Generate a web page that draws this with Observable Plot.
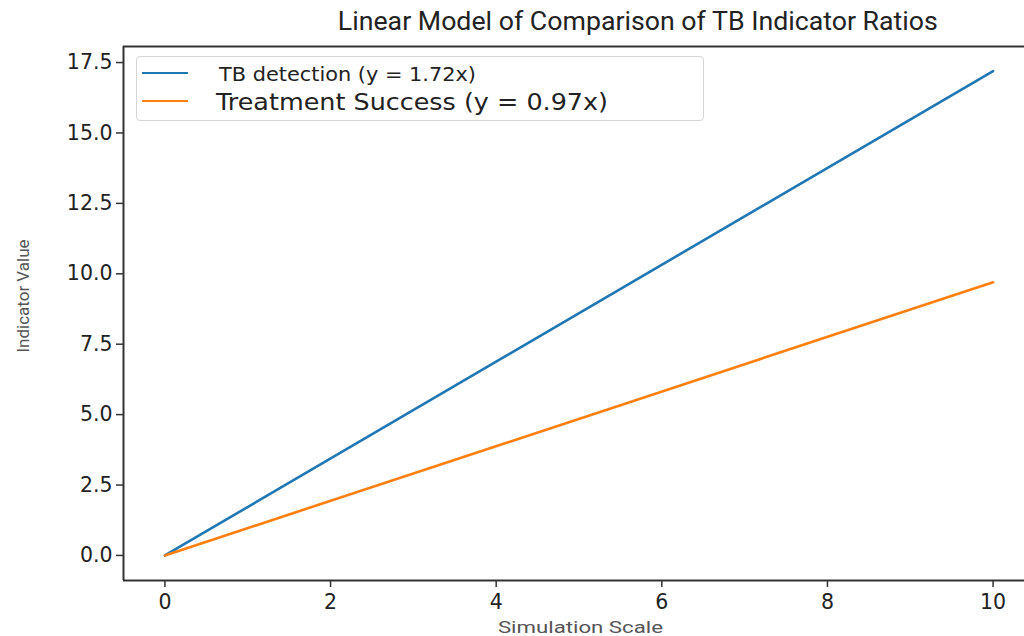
<!DOCTYPE html>
<html>
<head>
<meta charset="utf-8">
<script src="https://cdn.jsdelivr.net/npm/d3@7"></script>
<script src="https://cdn.jsdelivr.net/npm/@observablehq/plot@0.6"></script>
<style>
  html, body { margin: 0; padding: 0; background: #fff; overflow: hidden; }
  #wrap { position: relative; width: 1024px; height: 636px; }
  #legend { position: absolute; left: 136px; top: 56px; width: 568px; height: 65px;
            border: 1px solid #d6d6d6; border-radius: 4px; background: rgba(255,255,255,0.85);
            box-sizing: border-box; }
  .sw { position: absolute; width: 46px; height: 0; border-top: 2.5px solid; }
  .txt { position: absolute; white-space: nowrap; line-height: 1; }
</style>
</head>
<body>
<div id="wrap">
  <div id="chart"></div>
  <div id="legend"></div>
</div>
<script>
// Data
const seriesNames = ["TB detection (y = 1.72x)", "Treatment Success (y = 0.97x)"];
const seriesColors = ["#1f77b4", "#ff7f0e"];
const xValues = [0, 10];
const tbDetection = [0, 17.2];
const treatmentSuccess = [0, 9.7];
const xTicks = [0, 2, 4, 6, 8, 10];
const yTicks = [0, 2.5, 5, 7.5, 10, 12.5, 15, 17.5];
const xDomain = [-0.5, 10.5];
const yDomain = [-0.89, 18.07];
const titleText = "Linear Model of Comparison of TB Indicator Ratios";
const xLabel = "Simulation Scale";
const yLabel = "Indicator Value";

const rows = [];
xValues.forEach((x, i) => {
  rows.push({series: seriesNames[0], x, y: tbDetection[i]});
  rows.push({series: seriesNames[1], x, y: treatmentSuccess[i]});
});

const chart = Plot.plot({
  width: 1024,
  height: 636,
  marginLeft: 123,
  marginRight: -10,
  marginTop: 46,
  marginBottom: 56,
  style: {fontFamily: "DejaVu Sans, sans-serif", fontSize: "20.5px", color: "#222", background: "white", overflow: "visible"},
  x: {domain: xDomain, range: [123, 1034]},
  y: {domain: yDomain},
  color: {domain: seriesNames, range: seriesColors},
  marks: [
    Plot.line(rows, {x: "x", y: "y", z: "series", stroke: "series", strokeWidth: 2.6}),
    Plot.ruleY([yDomain[0]], {stroke: "#333", strokeWidth: 2}),
    Plot.ruleY([yDomain[1]], {stroke: "#333", strokeWidth: 2}),
    Plot.ruleX([xDomain[0]], {stroke: "#333", strokeWidth: 2}),
    Plot.axisX({ticks: xTicks, tickFormat: d => String(d), tickSize: 7, tickPadding: 7,
      stroke: "#333", strokeWidth: 1.5, fontSize: 20.5, label: null}),
    Plot.axisY({ticks: yTicks, tickFormat: d => d.toFixed(1), tickSize: 7, tickPadding: 4,
      stroke: "#333", strokeWidth: 1.5, fontSize: 20.5, label: null})
  ]
});
document.getElementById("chart").appendChild(chart);

const wrap = document.getElementById("wrap");
// place a text whose cap-centre sits at (x, cy); x is centre or left; stretched to a target width
function place(parent, text, o) {
  const el = document.createElement("div");
  el.className = "txt";
  el.textContent = text;
  el.style.fontFamily = o.font;
  el.style.fontSize = o.size + "px";
  el.style.color = o.color;
  parent.appendChild(el);
  const w = el.getBoundingClientRect().width;
  const s = o.width ? o.width / w : 1;
  el.style.top = (o.cy - 0.5 * o.size) + "px";
  if (o.rotate) {
    el.style.left = (o.x - w / 2) + "px";
    el.style.transformOrigin = "50% 50%";
    el.style.transform = `rotate(-90deg) scaleX(${s})`;
  } else if (o.anchor === "middle") {
    el.style.left = (o.x - w / 2) + "px";
    el.style.transformOrigin = "50% 50%";
    el.style.transform = `scaleX(${s})`;
  } else {
    el.style.left = o.x + "px";
    el.style.transformOrigin = "0 50%";
    el.style.transform = `scaleX(${s})`;
  }
  return el;
}

place(wrap, titleText, {font: "Roboto, sans-serif", size: 25, color: "#222", x: 638, cy: 21, width: 600, anchor: "middle"});
place(wrap, xLabel, {font: "Roboto, sans-serif", size: 16, color: "#555", x: 580, cy: 628, width: 165, anchor: "middle"});
place(wrap, yLabel, {font: "Roboto, sans-serif", size: 16, color: "#555", x: 24, cy: 296, width: 113, rotate: true});

const legend = document.getElementById("legend");
const legendText = [
  {size: 20, left: 82, cy: 17, width: 257},
  {size: 22.5, left: 79, cy: 45, width: 392}
];
const swatchY = [16, 44];
seriesNames.forEach((name, i) => {
  const sw = document.createElement("div");
  sw.className = "sw";
  sw.style.left = "5px";
  sw.style.top = (swatchY[i] - 1) + "px";
  sw.style.borderColor = seriesColors[i];
  legend.appendChild(sw);
  place(legend, name, {font: "DejaVu Sans, sans-serif", size: legendText[i].size, color: "#222",
    x: legendText[i].left, cy: legendText[i].cy, width: legendText[i].width});
});
</script>
</body>
</html>
